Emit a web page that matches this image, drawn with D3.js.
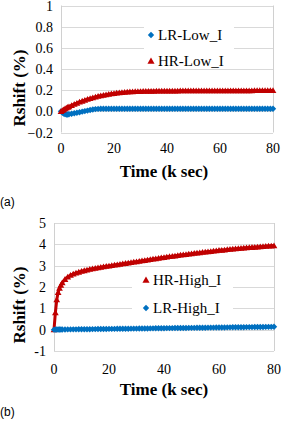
<!DOCTYPE html>
<meta charset="utf-8">
<head>
<script src="https://cdn.jsdelivr.net/npm/d3@7"></script>
<style>
body { margin: 0; background: #fff; }
svg { display: block; }
</style>
</head>
<body>
<svg id="chart"></svg>
<script>
// time in k sec
var time = [0,0.5,1,1.5,2,2.5,3,
  4,5,6,7,8,9,10,
  11,12,13,14,15,16,17,18,19,20,
  21,22,23,24,25,26,27,28,29,30,
  31,32,33,34,35,36,37,38,39,40,
  41,42,43,44,45,46,47,48,49,50,
  51,52,53,54,55,56,57,58,59,60,
  61,62,63,64,65,66,67,68,69,70,
  71,72,73,74,75,76,77,78,79,80];

// (a) low current
var lrLow = [0,-0.012,-0.02,-0.026,-0.03,-0.03,-0.028,
  -0.023,-0.018,-0.013,-0.008,-0.003,0.002,0.007,
  0.012,0.017,0.021,0.023,0.024,0.024,0.025,0.025,0.025,0.025,
  0.025,0.025,0.025,0.025,0.025,0.025,0.025,0.025,0.025,0.025,
  0.025,0.025,0.025,0.025,0.025,0.025,0.025,0.025,0.025,0.025,
  0.025,0.025,0.025,0.025,0.025,0.025,0.025,0.025,0.025,0.025,
  0.025,0.025,0.025,0.025,0.025,0.025,0.025,0.025,0.025,0.025,
  0.025,0.025,0.025,0.025,0.025,0.025,0.025,0.025,0.025,0.025,
  0.025,0.025,0.025,0.025,0.025,0.025,0.025,0.025,0.025,0.025];
var hrLow = [0,0.008,0.016,0.024,0.031,0.038,0.044,
  0.056,0.067,0.078,0.088,0.097,0.106,0.114,
  0.122,0.129,0.136,0.142,0.148,0.153,0.158,0.162,0.166,0.170,
  0.173,0.176,0.179,0.181,0.183,0.185,0.186,0.187,0.188,0.189,
  0.190,0.190,0.191,0.191,0.191,0.192,0.192,0.192,0.192,0.193,
  0.193,0.193,0.193,0.193,0.194,0.194,0.194,0.194,0.194,0.194,
  0.195,0.195,0.195,0.195,0.195,0.195,0.195,0.195,0.195,0.195,
  0.195,0.196,0.196,0.196,0.196,0.196,0.196,0.196,0.196,0.196,
  0.196,0.196,0.197,0.197,0.197,0.197,0.197,0.197,0.197,0.197];

// (b) high current
var hrHigh = [0,0.8,1.4,1.75,1.95,2.09,2.2,
  2.36,2.47,2.55,2.61,2.66,2.70,2.74,
  2.77,2.80,2.83,2.86,2.88,2.90,2.93,2.95,2.97,2.99,
  3.01,3.03,3.05,3.07,3.09,3.11,3.13,3.15,3.17,3.19,
  3.21,3.23,3.25,3.27,3.29,3.31,3.33,3.35,3.37,3.39,
  3.41,3.43,3.44,3.46,3.48,3.50,3.51,3.53,3.55,3.56,
  3.58,3.60,3.61,3.63,3.64,3.66,3.67,3.69,3.70,3.72,
  3.73,3.74,3.76,3.77,3.78,3.79,3.81,3.82,3.83,3.84,
  3.85,3.86,3.87,3.88,3.89,3.90,3.91,3.92,3.93,3.94];
var lrHigh = [0,0,0.005,0.005,0.01,0.01,0.01,
  0.01,0.012,0.013,0.014,0.015,0.017,0.018,
  0.02,0.021,0.023,0.025,0.026,0.028,0.03,0.031,0.033,0.035,
  0.036,0.038,0.04,0.041,0.043,0.045,0.046,0.048,0.05,0.051,
  0.053,0.055,0.056,0.058,0.06,0.061,0.063,0.065,0.066,0.068,
  0.07,0.071,0.073,0.075,0.076,0.078,0.08,0.081,0.083,0.085,
  0.086,0.088,0.09,0.091,0.093,0.095,0.096,0.098,0.1,0.101,
  0.103,0.105,0.106,0.108,0.11,0.111,0.113,0.115,0.116,0.118,
  0.12,0.121,0.123,0.125,0.126,0.128,0.13,0.131,0.133,0.135];

var xTicks = [0, 20, 40, 60, 80];
var yTicksA = [-0.2, 0, 0.2, 0.4, 0.6, 0.8, 1];
var yTicksB = [-1, 0, 1, 2, 3, 4, 5];

var blue = "#0070c0";
var red = "#c00000";
var serif = "Liberation Serif";

var width = 281, height = 424;
var svg = d3.select("#chart").attr("width", width).attr("height", height);

function diamond(r) {
  return "M0," + (-r) + "L" + r + ",0L0," + r + "L" + (-r) + ",0Z";
}
function triangle(r) {
  return "M0," + (-r) + "L" + (r * 1.05) + "," + (r * 0.8) + "L" + (-r * 1.05) + "," + (r * 0.8) + "Z";
}

function drawPanel(p) {
  var g = svg.append("g");
  var x = d3.scaleLinear().domain([0, 80]).range([p.left, p.right]);
  var y = d3.scaleLinear().domain(p.yDomain).range([p.bottom, p.top]);

  // gridlines
  g.selectAll(".grid").data(p.yTicks).enter().append("line")
    .attr("x1", p.left).attr("x2", p.right)
    .attr("y1", function(d) { return Math.round(y(d)) + 0.5; })
    .attr("y2", function(d) { return Math.round(y(d)) + 0.5; })
    .attr("stroke", "#d9d9d9").attr("stroke-width", 1);
  [p.left, p.right].forEach(function(xx) {
    g.append("line")
      .attr("x1", Math.round(xx) + 0.5).attr("x2", Math.round(xx) + 0.5)
      .attr("y1", p.top).attr("y2", p.bottom)
      .attr("stroke", "#d0d0d0");
  });

  // legend box hides grid
  g.append("rect").attr("x", p.legend.x0).attr("y", p.legend.y0)
    .attr("width", p.legend.w).attr("height", p.legend.h).attr("fill", "#fff");

  // tick labels
  g.selectAll(".ylab").data(p.yTicks).enter().append("text")
    .attr("x", p.left - 8).attr("y", function(d) { return y(d) + 5; })
    .attr("text-anchor", "end")
    .attr("font-family", serif).attr("font-size", 14)
    .text(p.yFormat);
  g.selectAll(".xlab").data(xTicks).enter().append("text")
    .attr("x", function(d) { return x(d); }).attr("y", p.bottom + p.xLabGap)
    .attr("text-anchor", "middle")
    .attr("font-family", serif).attr("font-size", 14)
    .text(function(d) { return d; });

  // titles
  g.append("text").attr("x", 164).attr("y", p.xTitleY)
    .attr("text-anchor", "middle")
    .attr("font-family", serif).attr("font-size", 17).attr("font-weight", "bold")
    .text("Time (k sec)");
  g.append("text")
    .attr("transform", "translate(25," + p.yTitleC + ") rotate(-90)")
    .attr("text-anchor", "middle")
    .attr("font-family", serif).attr("font-size", 17).attr("font-weight", "bold")
    .text("Rshift (%)");

  // series: thin joining line under dense markers
  p.series.forEach(function(s) {
    var line = d3.line()
      .x(function(d, i) { return x(time[i]); })
      .y(function(d) { return y(d); });
    g.append("path").datum(s.values)
      .attr("d", line)
      .attr("fill", "none").attr("stroke", s.color).attr("stroke-width", 3);
    g.append("g").selectAll("path").data(s.values).enter().append("path")
      .attr("transform", function(d, i) { return "translate(" + x(time[i]) + "," + y(d) + ")"; })
      .attr("d", s.shape === "diamond" ? diamond(3.2) : triangle(3.2))
      .attr("fill", s.color);
  });

  // legend
  p.legendItems.forEach(function(s, i) {
    var cy = p.legend.cy[i];
    g.append("path")
      .attr("transform", "translate(" + p.legend.mx + "," + cy + ")")
      .attr("d", s.shape === "diamond" ? diamond(3.2) : triangle(3.4))
      .attr("fill", s.color);
    g.append("text").attr("x", p.legend.mx + 7).attr("y", cy + 5)
      .attr("font-family", serif).attr("font-size", 15)
      .text(s.name);
  });

  // panel label
  svg.append("text").attr("x", 0).attr("y", p.labelY)
    .attr("font-family", "Liberation Sans").attr("font-size", 12)
    .text(p.label);
}

var sLrLow = { name: "LR-Low_I", values: lrLow, color: blue, shape: "diamond" };
var sHrLow = { name: "HR-Low_I", values: hrLow, color: red, shape: "triangle" };
var sHrHigh = { name: "HR-High_I", values: hrHigh, color: red, shape: "triangle" };
var sLrHigh = { name: "LR-High_I", values: lrHigh, color: blue, shape: "diamond" };

drawPanel({
  left: 61, right: 273, top: 5.5, bottom: 132.5,
  yDomain: [-0.2, 1], yTicks: yTicksA,
  yFormat: function(d) { return d === 1 ? "1" : d3.format(".1f")(d); },
  xLabGap: 20, xTitleY: 177, yTitleC: 88,
  series: [sLrLow, sHrLow],
  legendItems: [sLrLow, sHrLow],
  legend: { x0: 144, y0: 18, w: 90, h: 48, mx: 151, cy: [35, 61] },
  label: "(a)", labelY: 206
});

drawPanel({
  left: 54, right: 274, top: 223, bottom: 351,
  yDomain: [-1, 5], yTicks: yTicksB,
  yFormat: function(d) { return d; },
  xLabGap: 23, xTitleY: 395, yTitleC: 305,
  series: [sHrHigh, sLrHigh],
  legendItems: [sHrHigh, sLrHigh],
  legend: { x0: 132, y0: 268, w: 101, h: 52, mx: 146, cy: [280, 308] },
  label: "(b)", labelY: 416
});
</script>
</body>
